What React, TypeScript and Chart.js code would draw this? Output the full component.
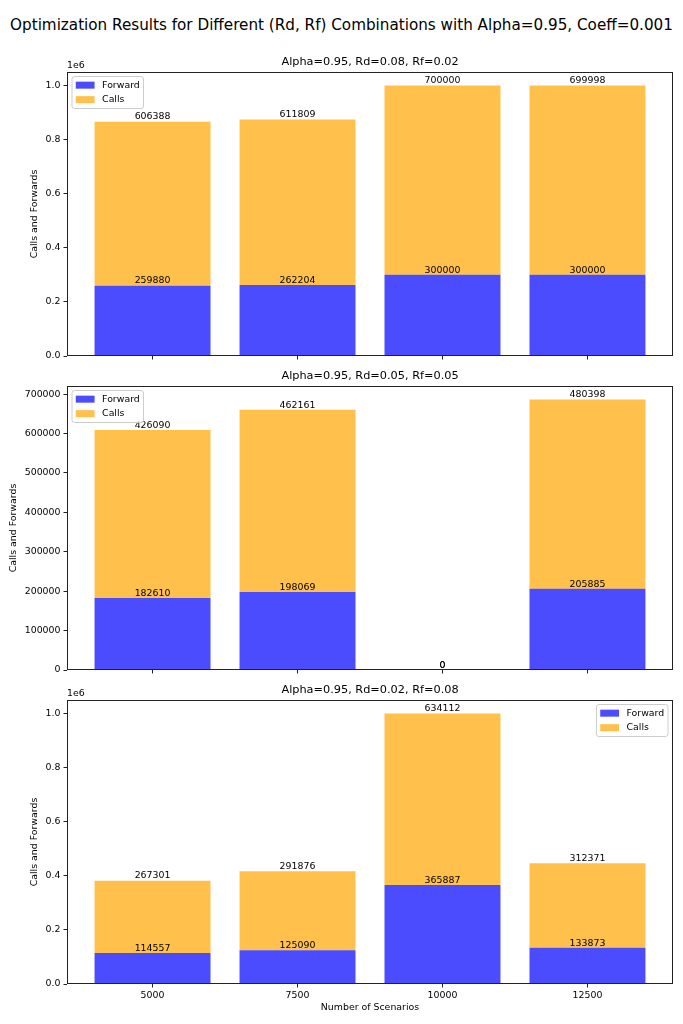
import React, { useEffect, useRef } from 'react';
import { Chart, registerables } from 'chart.js';

Chart.register(...registerables);

const FONT = '"DejaVu Sans", sans-serif';

// ---------- data ----------
const figureTitle = 'Optimization Results for Different (Rd, Rf) Combinations with Alpha=0.95, Coeff=0.001';
const categories = ['5000', '7500', '10000', '12500'];
const subplotTitles = [
  'Alpha=0.95, Rd=0.08, Rf=0.02',
  'Alpha=0.95, Rd=0.05, Rf=0.05',
  'Alpha=0.95, Rd=0.02, Rf=0.08',
];
const forward1 = [259880, 262204, 300000, 300000];
const calls1 = [606388, 611809, 700000, 699998];
const forward2 = [182610, 198069, 0, 205885];
const calls2 = [426090, 462161, 0, 480398];
const forward3 = [114557, 125090, 365887, 133873];
const calls3 = [267301, 291876, 634112, 312371];
const yTicksMillion = [0, 200000, 400000, 600000, 800000, 1000000];
const yTicksPlain = [0, 100000, 200000, 300000, 400000, 500000, 600000, 700000];
const seriesLabels = ['Forward', 'Calls'];
const xAxisTitle = 'Number of Scenarios';
const yAxisTitle = 'Calls and Forwards';

// ---------- styles ----------
const FORWARD_COLOR = 'rgba(0,0,255,0.7)';
const CALLS_COLOR = 'rgba(255,165,0,0.7)';
const FS = 9.4;

type PanelProps = {
  axTop: number;
  axBottom: number;
  forward: number[];
  calls: number[];
  title: string;
  yTicks: number[];
  millions: boolean;
  legendRight: boolean;
  showX: boolean;
  yTitleX: number;
};

const layouts = [
  { axTop: 72, axBottom: 356, legendRight: false, showX: false, yTitleX: 35 },
  { axTop: 386, axBottom: 670, legendRight: false, showX: false, yTitleX: 14 },
  { axTop: 700, axBottom: 984, legendRight: true, showX: true, yTitleX: 35 },
];

const AX_LEFT = 67;
const AX_RIGHT = 673;
const TOP_PAD = 38;

function Panel(p: PanelProps) {
  const ref = useRef<HTMLCanvasElement>(null);
  const stripTop = p.axTop - TOP_PAD;
  const bottomPad = p.showX ? 1024 - p.axBottom : 14;
  const height = p.axBottom + bottomPad - stripTop;

  useEffect(() => {
    const totals = p.forward.map((v, i) => v + p.calls[i]);
    const yMax = Math.max(...totals) * 1.05;

    const decor = {
      id: 'decor',
      afterDatasetsDraw(chart: any) {
        const ctx: CanvasRenderingContext2D = chart.ctx;
        const { left, right, top, bottom } = chart.chartArea;
        ctx.save();
        // value labels
        ctx.font = `${FS}px ${FONT}`;
        ctx.fillStyle = '#000';
        ctx.textAlign = 'center';
        ctx.textBaseline = 'bottom';
        chart.data.datasets.forEach((ds: any, di: number) => {
          const meta = chart.getDatasetMeta(di);
          meta.data.forEach((el: any, i: number) => {
            const v = ds.data[i].y;
            ctx.fillText(String(v), el.x, el.y);
          });
        });
        // spines
        ctx.strokeStyle = '#222';
        ctx.lineWidth = 1;
        const l = Math.round(left) + 0.5;
        const t = Math.round(top) + 0.5;
        const r = Math.round(right) - 0.5;
        const b = Math.round(bottom) - 0.5;
        ctx.strokeRect(l, t, r - l, b - t);

        // legend
        ctx.font = `${FS}px ${FONT}`;
        const labels: string[] = chart.data.datasets.map((d: any) => d.label);
        const tw = Math.max(...labels.map((s) => ctx.measureText(s).width));
        const bp = 0.4 * FS;
        const hl = 2 * FS;
        const htp = 0.8 * FS;
        const rowStep = 14.5;
        const w = 2 * bp + hl + htp + tw;
        const h = 32;
        const x0 = p.legendRight ? right - 5 - w : left + 5;
        const y0 = top + 4.5;
        ctx.beginPath();
        if ((ctx as any).roundRect) (ctx as any).roundRect(x0, y0, w, h, 2.5);
        else ctx.rect(x0, y0, w, h);
        ctx.fillStyle = 'rgba(255,255,255,0.8)';
        ctx.fill();
        ctx.strokeStyle = '#cccccc';
        ctx.lineWidth = 1;
        ctx.stroke();
        labels.forEach((s, i) => {
          const cy = y0 + bp + 4.9 + i * rowStep;
          ctx.fillStyle = chart.data.datasets[i].backgroundColor;
          ctx.fillRect(x0 + bp, cy - 3.5, hl, 7);
          ctx.fillStyle = '#000';
          ctx.textAlign = 'left';
          ctx.textBaseline = 'middle';
          ctx.fillText(s, x0 + bp + hl + htp, cy);
        });

        // subplot title
        ctx.fillStyle = '#000';
        ctx.font = `11.3px ${FONT}`;
        ctx.textAlign = 'center';
        ctx.textBaseline = 'middle';
        ctx.fillText(p.title, (left + right) / 2, top - 10);

        // offset text
        if (p.millions) {
          ctx.font = `${FS}px ${FONT}`;
          ctx.textAlign = 'left';
          ctx.textBaseline = 'middle';
          ctx.fillText('1e6', left, top - 6.5);
        }

        // y axis title
        ctx.save();
        ctx.font = `${FS}px ${FONT}`;
        ctx.translate(p.yTitleX, (top + bottom) / 2);
        ctx.rotate(-Math.PI / 2);
        ctx.textAlign = 'center';
        ctx.textBaseline = 'middle';
        ctx.fillText(yAxisTitle, 0, 0);
        ctx.restore();

        // x axis title
        if (p.showX) {
          ctx.font = `${FS}px ${FONT}`;
          ctx.textAlign = 'center';
          ctx.textBaseline = 'middle';
          ctx.fillText(xAxisTitle, (left + right) / 2, bottom + 24);
        }
        ctx.restore();
      },
    };

    const chart = new Chart(ref.current as HTMLCanvasElement, {
      type: 'bar',
      data: {
        datasets: [
          {
            label: seriesLabels[0],
            data: p.forward.map((v, i) => ({ x: i, y: v })),
            backgroundColor: FORWARD_COLOR,
            borderWidth: 0,
            barPercentage: 0.8,
            categoryPercentage: 1.0,
          },
          {
            label: seriesLabels[1],
            data: p.calls.map((v, i) => ({ x: i, y: v })),
            backgroundColor: CALLS_COLOR,
            borderWidth: 0,
            barPercentage: 0.8,
            categoryPercentage: 1.0,
          },
        ],
      } as any,
      options: {
        animation: false,
        responsive: false,
        events: [],
        layout: { padding: { top: TOP_PAD, right: 683 - AX_RIGHT, left: 0, bottom: 0 } },
        plugins: {
          legend: { display: false },
          title: { display: false },
          tooltip: { enabled: false },
        },
        scales: {
          x: {
            type: 'linear',
            stacked: true,
            offset: false,
            min: -0.59,
            max: 3.59,
            afterBuildTicks: (s: any) => {
              s.ticks = categories.map((_, i) => ({ value: i }));
            },
            afterFit: (s: any) => {
              s.height = bottomPad;
            },
            ticks: {
              display: p.showX,
              callback: (v: any) => categories[v as number] ?? '',
              font: { family: FONT, size: FS },
              color: '#000',
              padding: 2,
              maxRotation: 0,
              autoSkip: false,
            },
            grid: {
              offset: false,
              drawOnChartArea: false,
              drawTicks: true,
              tickLength: 3.5,
              tickColor: '#222',
              tickWidth: 1,
            },
            border: { display: false },
          },
          y: {
            type: 'linear',
            stacked: true,
            min: 0,
            max: yMax,
            afterBuildTicks: (s: any) => {
              s.ticks = p.yTicks.map((v) => ({ value: v }));
            },
            afterFit: (s: any) => {
              s.width = AX_LEFT;
            },
            ticks: {
              callback: (v: any) => (p.millions ? ((v as number) / 1e6).toFixed(1) : String(v)),
              font: { family: FONT, size: FS },
              color: '#000',
              padding: 3,
              autoSkip: false,
            },
            grid: {
              drawOnChartArea: false,
              drawTicks: true,
              tickLength: 3.5,
              tickColor: '#222',
              tickWidth: 1,
            },
            border: { display: false },
          },
        },
      } as any,
      plugins: [decor],
    });
    return () => chart.destroy();
  }, []);

  return (
    <canvas
      ref={ref}
      width={683}
      height={height}
      style={{ position: 'absolute', left: 0, top: stripTop, width: 683, height }}
    />
  );
}

export default function App() {
  const data = [
    { forward: forward1, calls: calls1, yTicks: yTicksMillion, millions: true },
    { forward: forward2, calls: calls2, yTicks: yTicksPlain, millions: false },
    { forward: forward3, calls: calls3, yTicks: yTicksMillion, millions: true },
  ];
  return (
    <div style={{ position: 'absolute', left: 0, top: 0, width: 683, height: 1024, background: '#fff', overflow: 'hidden' }}>
      <div
        style={{
          position: 'absolute',
          left: 0,
          top: 16,
          width: 683,
          height: 18,
          lineHeight: '18px',
          textAlign: 'center',
          fontFamily: FONT,
          fontSize: 15.2,
          color: '#000',
          whiteSpace: 'nowrap',
        }}
      >
        {figureTitle}
      </div>
      {layouts.map((lay, i) => (
        <Panel
          key={i}
          axTop={lay.axTop}
          axBottom={lay.axBottom}
          legendRight={lay.legendRight}
          showX={lay.showX}
          yTitleX={lay.yTitleX}
          forward={data[i].forward}
          calls={data[i].calls}
          yTicks={data[i].yTicks}
          millions={data[i].millions}
          title={subplotTitles[i]}
        />
      ))}
    </div>
  );
}
